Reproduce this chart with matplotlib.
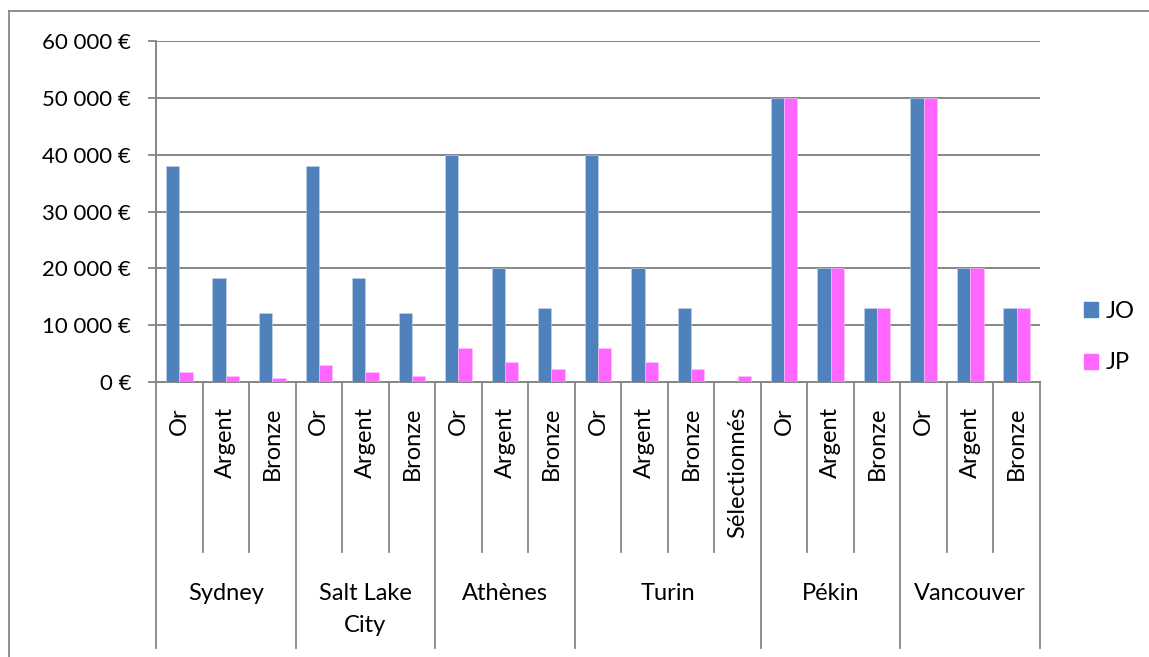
"""Primes JO / JP par médaille : colonnes groupées avec axe de catégories à deux niveaux."""
import numpy as np
import matplotlib; matplotlib.use('Agg'); import matplotlib.pyplot as plt
from matplotlib.lines import Line2D
from matplotlib.patches import Patch
import matplotlib.transforms as mtransforms

plt.rcParams.update({'font.family': ['Lato', 'DejaVu Sans'], 'font.size': 17})

BLUE = '#4F81BD'; PINK = '#FF66FF'; GRID = '#868686'; INK = '#000000'

# ---- data ----
cities = ['Sydney', 'Salt Lake\nCity', 'Athènes', 'Turin', 'Pékin', 'Vancouver']
city_sizes = [3, 3, 3, 4, 3, 3]
medals = ['Or', 'Argent', 'Bronze', 'Or', 'Argent', 'Bronze', 'Or', 'Argent', 'Bronze',
          'Or', 'Argent', 'Bronze', 'Sélectionnés', 'Or', 'Argent', 'Bronze', 'Or', 'Argent', 'Bronze']
jo = [38000, 18300, 12100, 38000, 18300, 12100, 40000, 20000, 13000,
      40000, 20000, 13000, 0, 50000, 20000, 13000, 50000, 20000, 13000]
jp = [1800, 1100, 700, 3000, 1700, 1100, 6000, 3500, 2300,
      6000, 3500, 2300, 1000, 50000, 20000, 13000, 50000, 20000, 13000]
yticks = [0, 10000, 20000, 30000, 40000, 50000, 60000]

W, H = 1149, 657
fig = plt.figure(figsize=(W/100, H/100), dpi=100)
ax = fig.add_axes([156/W, 1-382/H, (1040-156)/W, (382-41)/H])

n = len(medals); x = np.arange(n) + 0.5; bw = 1/3.5
ax.bar(x-bw/2, jo, bw, color=BLUE, edgecolor='#c6d4ea', linewidth=0.4, label='JO', zorder=3)
ax.bar(x+bw/2, jp, bw, color=PINK, edgecolor='#ffc2ff', linewidth=0.4, label='JP', zorder=3)

ax.set_xlim(0, n); ax.set_ylim(0, 60000)
ax.set_yticks(yticks)
ax.set_yticklabels([f'{v:,.0f} €'.replace(',', ' ') for v in yticks], fontsize=16)
ax.tick_params(axis='y', length=6, width=1.3, color=GRID, pad=12)
ax.set_xticks([])
ax.grid(axis='y', color=GRID, lw=1.4, zorder=0)
for s in ['top', 'right']: ax.spines[s].set_visible(False)
for s in ['left', 'bottom']: ax.spines[s].set_color(GRID); ax.spines[s].set_linewidth(1.4)

# ---- two-level category axis ----
tr = mtransforms.blended_transform_factory(ax.transData, ax.transAxes)
axh = 382-41
lvl1 = -(552-382)/axh; lvl2 = -(648-382)/axh
bounds = np.cumsum([0]+city_sizes)
for b in range(n+1):
    yb = lvl2 if b in bounds else lvl1
    ax.plot([b, b], [0, yb], color=GRID, lw=1.3, transform=tr, clip_on=False)
for xi, m in zip(x, medals):
    ax.text(xi, -(407-382)/axh, m, rotation=90, ha='center', va='top', transform=tr, color=INK)
for i, c in enumerate(cities):
    ax.text((bounds[i]+bounds[i+1])/2, -(583-382)/axh, c, ha='center', va='top',
            transform=tr, linespacing=1.65, color=INK)

ax.legend(handles=[Patch(color=BLUE, label='JO'), Patch(color=PINK, label='JP')],
          loc='center left', bbox_to_anchor=(1084/W, 1-337/H), bbox_transform=fig.transFigure,
          frameon=False, handlelength=0.6, handleheight=0.6, labelspacing=1.3, handletextpad=0.3,
          borderpad=0, borderaxespad=0)

# chart frame
fig.add_artist(Line2D([9/W, 9/W], [0, 1-11/H], color=GRID, lw=1.3))
fig.add_artist(Line2D([9/W, 1], [1-11/H, 1-11/H], color=GRID, lw=1.3))

fig.savefig('out.png', dpi=100)
